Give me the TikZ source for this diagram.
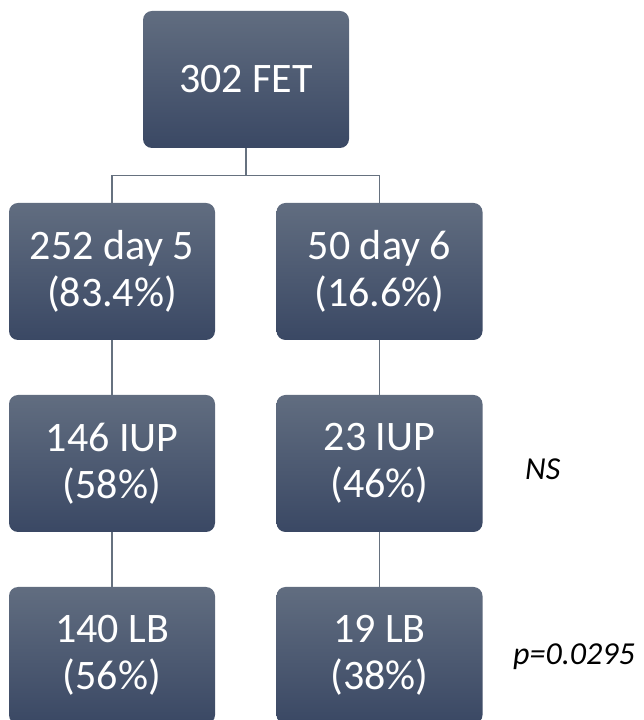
\documentclass[tikz,border=0pt]{standalone}
\usepackage{fontspec}
\setmainfont{Carlito}
\usetikzlibrary{
  calc,
  positioning
}
\definecolor{boxtop}{HTML}{616D80}
\definecolor{boxbottom}{HTML}{3A4864}
\definecolor{linkgray}{HTML}{66717F}
\tikzset{
  font=\rmfamily,
  stagebox/.style={
    rounded corners=9pt,
    top color=boxtop,
    bottom color=boxbottom,
    draw=none,
    align=center,
    text=white,
    minimum width=206pt,
    minimum height=137pt,
    inner sep=4pt,
    font=\rmfamily\fontsize{42}{47}\selectfont
  },
  link/.style={draw=linkgray, line width=1.2pt},
  stat label/.style={font=\rmfamily\itshape\fontsize{32}{38}\selectfont, text=black, anchor=base west, inner sep=0pt}
}

\begin{document}
\begin{tikzpicture}[x=1pt,y=1pt]
  \useasboundingbox (0,0) rectangle (643,720);

  % Transfers and day of blastocyst
  \node[stagebox] (fet) at (246,640.5) {302 FET};
  \node[stagebox] (day5) at (112,448.5) {252 day 5\\(83.4\%)};
  \node[stagebox] (day6) at (379.5,448.5) {50 day 6\\(16.6\%)};

  % Outcomes
  \node[stagebox] (iup5) at (112,256.5) {146 IUP\\(58\%)};
  \node[stagebox] (iup6) at (379.5,256.5) {23 IUP\\(46\%)};
  \node[stagebox] (lb5) at (112,64.5) {140 LB\\(56\%)};
  \node[stagebox] (lb6) at (379.5,64.5) {19 LB\\(38\%)};

  % Comparisons
  \node[stat label] (ns) at (525,240) {NS};
  \node[stat label] (pval) at (513,55) {p=0.0295};

  % Tree connectors
  \coordinate (split) at ($(fet.south)+(0,-27)$);
  \draw[link] (fet.south) -- (split) -| (day5.north);
  \draw[link] (split) -| (day6.north);
  \draw[link] (day5.south) -- (iup5.north);
  \draw[link] (day6.south) -- (iup6.north);
  \draw[link] (iup5.south) -- (lb5.north);
  \draw[link] (iup6.south) -- (lb6.north);
\end{tikzpicture}
\end{document}
